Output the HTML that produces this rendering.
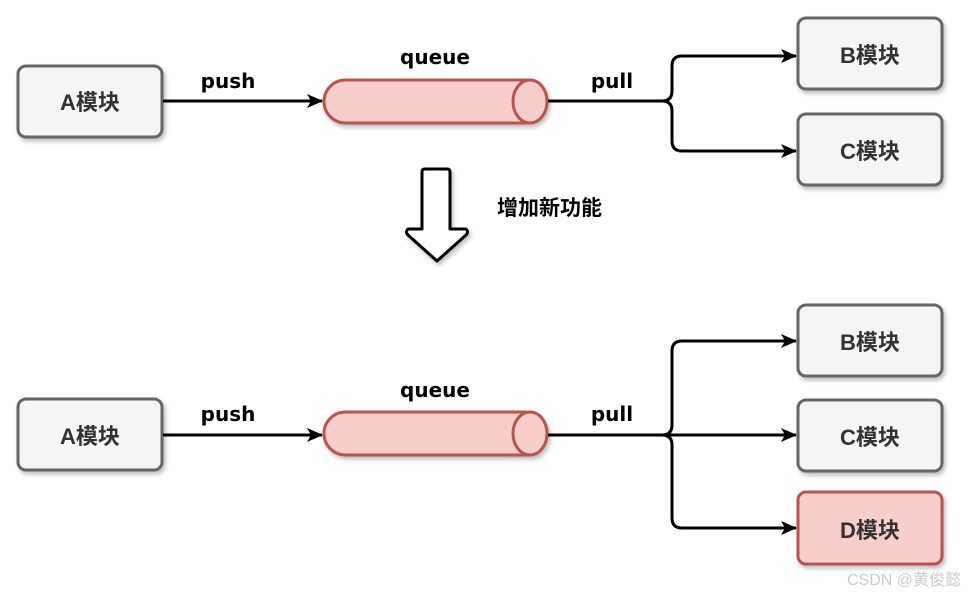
<!DOCTYPE html><html><head><style>body{margin:0;background:#fff}svg{display:block}</style></head><body>
<svg width="972" height="596" xmlns="http://www.w3.org/2000/svg" font-family="Liberation Sans, Noto Sans CJK SC, sans-serif" font-weight="bold">
<defs>
<filter id="s" x="-10%" y="-10%" width="130%" height="140%"><feDropShadow dx="2" dy="3" stdDeviation="2" flood-color="#000" flood-opacity="0.25"/></filter>
<marker id="a" markerWidth="16" markerHeight="14" refX="15" refY="7" orient="auto" markerUnits="userSpaceOnUse"><path d="M0,0 L16,7 L0,14 L4,7 z" fill="#000"/></marker>
<g id="box"><rect width="144" height="71" rx="8" fill="#f5f5f5" stroke="#666" stroke-width="3" filter="url(#s)"/></g>
<g id="cyl" filter="url(#s)"><rect x="0" y="0" width="223" height="43" rx="21.5" fill="#f8cecc" stroke="#b85450" stroke-width="3"/><ellipse cx="206" cy="21.5" rx="17" ry="21.5" fill="#f8cecc" stroke="#b85450" stroke-width="3"/></g>
</defs>
<g fill="#333" font-size="22" text-anchor="middle">
<use href="#box" x="18" y="66"/><text x="90" y="110">A模块</text>
<use href="#box" x="798" y="18"/><text x="870" y="63">B模块</text>
<use href="#box" x="798" y="114"/><text x="870" y="159">C模块</text>
<use href="#cyl" x="324" y="80"/>
<use href="#box" x="18" y="399"/><text x="90" y="444">A模块</text>
<use href="#box" x="798" y="305"/><text x="870" y="350">B模块</text>
<use href="#box" x="798" y="400"/><text x="870" y="445">C模块</text>
<rect x="798" y="492" width="144" height="72" rx="8" fill="#f8cecc" stroke="#b85450" stroke-width="3" filter="url(#s)"/><text x="870" y="538">D模块</text>
<use href="#cyl" x="324" y="412"/>
</g>
<g stroke="#000" stroke-width="3" fill="none" marker-end="url(#a)">
<path d="M163,101 H322"/>
<path d="M548,101 H662 Q672,101 672,91 V66 Q672,56 682,56 H796"/>
<path d="M548,101 H662 Q672,101 672,111 V141 Q672,151 682,151 H796"/>
<path d="M163,435 H322"/>
<path d="M548,435 H662 Q672,435 672,425 V351 Q672,341 682,341 H796"/>
<path d="M548,435 H796"/>
<path d="M662,435 Q672,435 672,445 V518 Q672,528 682,528 H796"/>
</g>
<path d="M425,169 H447 Q450,169 450,172 V229 H466 Q469,232 466,235 L437,261 L408,235 Q405,232 408,229 H422 V172 Q422,169 425,169 Z" fill="#fff" stroke="#000" stroke-width="3" stroke-linejoin="round" filter="url(#s)"/>
<g fill="#000" font-size="20" text-anchor="middle" font-family="DejaVu Sans, Noto Sans CJK SC, sans-serif">
<text x="228" y="88">push</text><text x="435" y="64">queue</text><text x="612" y="88">pull</text>
<text x="228" y="421">push</text><text x="435" y="397">queue</text><text x="612" y="421">pull</text>
<text x="497" y="215" text-anchor="start" font-family="Liberation Sans, Noto Sans CJK SC, sans-serif" font-size="21">增加新功能</text>
</g>
<text x="904" y="585" fill="#ccc" font-size="16" font-weight="normal" text-anchor="middle">CSDN @黄俊懿</text>
</svg></body></html>
